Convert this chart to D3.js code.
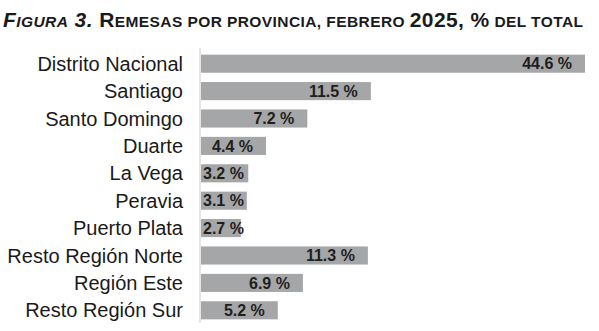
<!DOCTYPE html>
<html>
<head>
<meta charset="utf-8">
<script src="https://cdn.jsdelivr.net/npm/d3@7"></script>
<style>
  html, body { margin: 0; padding: 0; background: #ffffff; }
  svg { display: block; }
</style>
</head>
<body>
<svg id="chart" width="599" height="331"></svg>
<script>
// Provinces / regions, in display order
const categories = [
  "Distrito Nacional", "Santiago", "Santo Domingo", "Duarte", "La Vega",
  "Peravia", "Puerto Plata", "Resto Región Norte", "Región Este", "Resto Región Sur"
];
// Share of remittances received, February 2025 (% of total)
const shares = [44.6, 11.5, 7.2, 4.4, 3.2, 3.1, 2.7, 11.3, 6.9, 5.2];
// Axis maximum: the largest bar runs past it and is cut at the edge
const axisMax = 26;

const data = categories.map((c, i) => ({ name: c, value: shares[i] }));

const svg = d3.select("#chart");
const font = "'Liberation Sans', Arial, Helvetica, sans-serif";

// Title in small caps: larger initials, smaller capitals
const titleParts = [
  { t: "F", s: 21, st: "italic" }, { t: "IGURA", s: 15.5, st: "italic" },
  { t: " 3. ", s: 21, st: "italic" },
  { t: "R", s: 21 }, { t: "EMESAS POR PROVINCIA, FEBRERO ", s: 15.5 },
  { t: "2025, %", s: 21 }, { t: " DEL TOTAL", s: 15.5 }
];
const title = svg.append("text")
  .attr("x", 3).attr("y", 27)
  .attr("font-family", font).attr("font-weight", "bold")
  .attr("fill", "#1a1a1a");
title.selectAll("tspan").data(titleParts).join("tspan")
  .attr("font-size", d => d.s)
  .attr("font-style", d => d.st || "normal")
  .style("white-space", "pre")
  .text(d => d.t);
// Spread the title so it runs to the right edge of the chart
const titleTarget = 580;
const titleW = title.node().getComputedTextLength();
const nChars = titleParts.map(d => d.t).join("").length;
title.attr("letter-spacing", Math.max(0, (titleTarget - titleW) / (nChars - 1)));

const x = d3.scaleLinear().domain([0, axisMax]).range([201, 585]).clamp(true);
const y = d3.scaleBand().domain(categories).range([50, 324])
  .paddingInner(0.34).paddingOuter(0.17);

// Category axis on the left
const yAxis = d3.axisLeft(y).tickSize(0).tickPadding(17);
const gy = svg.append("g").attr("transform", "translate(200,0)").call(yAxis);
gy.select(".domain").attr("stroke", "#d4d4d4").attr("stroke-width", 1.2)
  .attr("d", "M0,48V323");
gy.selectAll("text")
  .attr("font-family", font).attr("font-size", 20)
  .attr("fill", "#1a1a1a").attr("dy", "0.35em");

// Bars
svg.append("g").selectAll("rect").data(data).join("rect")
  .attr("x", x(0))
  .attr("y", d => y(d.name))
  .attr("width", d => x(d.value) - x(0))
  .attr("height", y.bandwidth())
  .attr("fill", "#a5a6a8");

// Value labels near the inner end of each bar
const labels = svg.append("g").selectAll("text").data(data).join("text")
  .attr("font-family", font).attr("font-size", 16).attr("font-weight", "bold")
  .attr("fill", "#1f1f1f")
  .attr("text-anchor", "end")
  .attr("y", d => y(d.name) + y.bandwidth() / 2)
  .attr("dy", "0.36em")
  .text(d => d.value.toFixed(1) + " %");
labels.attr("x", function (d) {
  const w = this.getComputedTextLength();
  return Math.max(x(d.value) - 13, x(0) + 2 + w);
});
</script>
</body>
</html>
